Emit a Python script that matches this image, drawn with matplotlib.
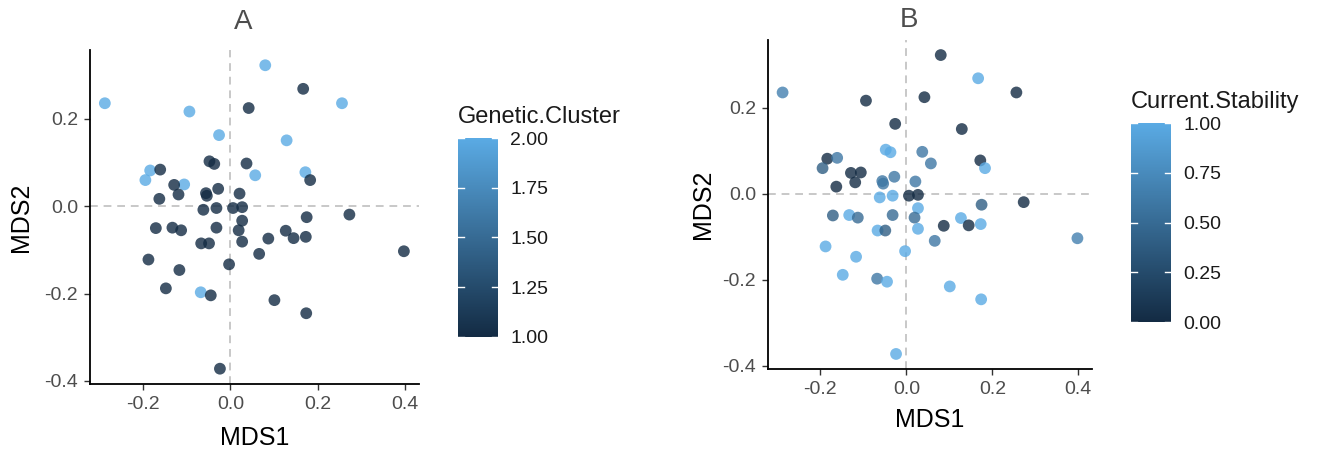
import matplotlib.pyplot as plt
import matplotlib as mpl
from matplotlib.colors import LinearSegmentedColormap
import numpy as np

plt.rcParams['font.family'] = ['Liberation Sans', 'DejaVu Sans']

# MDS coordinates (same samples in both panels)
mds1 = [-0.288, 0.080, -0.094, -0.026, 0.256, 0.129, -0.184, -0.195, -0.106, 0.057,
        0.172, -0.068,
        0.167, 0.042, -0.161, -0.048, -0.037, 0.037, 0.183, -0.129, -0.119, -0.163,
        -0.028, -0.056, -0.054, 0.021, -0.062, -0.032, 0.006, 0.027, 0.027, 0.175,
        0.273, -0.171, -0.133, -0.113, -0.032, 0.019, 0.127, 0.145, 0.173, 0.087,
        0.027, -0.067, -0.049, 0.066, 0.398, -0.188, -0.003, -0.117, -0.148, -0.045,
        0.101, 0.174, -0.024]
mds2 = [0.236, 0.323, 0.217, 0.163, 0.236, 0.151, 0.082, 0.060, 0.050, 0.071,
        0.078, -0.197,
        0.269, 0.225, 0.084, 0.103, 0.097, 0.098, 0.060, 0.049, 0.027, 0.017,
        0.040, 0.030, 0.024, 0.029, -0.008, -0.004, -0.004, -0.002, -0.033, -0.025,
        -0.019, -0.050, -0.049, -0.055, -0.049, -0.055, -0.056, -0.073, -0.070, -0.074,
        -0.081, -0.085, -0.085, -0.109, -0.103, -0.122, -0.133, -0.146, -0.188, -0.204,
        -0.215, -0.245, -0.372]
genetic_cluster = [2] * 12 + [1] * 43
current_stability = [0.67, 0.0, 0.0, 0.0, 0.0, 0.0, 0.0, 0.4, 0.0, 0.6,
                     0.0, 0.6,
                     1.0, 0.0, 0.6, 1.0, 1.0, 0.6, 1.0, 0.0, 0.0, 0.0,
                     0.6, 0.6, 0.6, 0.6, 1.0, 1.0, 0.0, 0.0, 1.0, 0.4,
                     0.0, 0.4, 1.0, 0.5, 0.5, 0.5, 1.0, 0.0, 1.0, 0.0,
                     1.0, 1.0, 0.4, 0.6, 0.67, 1.0, 1.0, 1.0, 1.0, 1.0,
                     1.0, 1.0, 1.0]

cmap = LinearSegmentedColormap.from_list('gg', ['#132B43', '#5aaae4'])
tick_gray = '#4d4d4d'

fig = plt.figure(figsize=(13.2, 4.51), dpi=100)


def draw_panel(rect, cbar_rect, values, vmin, vmax, cticks, ctitle, title, title_xy,
               ylab_x, xlab_y):
    ax = fig.add_axes(rect)
    ax.axhline(0, color='#c8c8c8', ls=(0, (4, 3)), lw=1.4, zorder=1)
    ax.axvline(0, color='#c8c8c8', ls=(0, (4, 3)), lw=1.4, zorder=1)
    sc = ax.scatter(mds1, mds2, c=values, cmap=cmap, vmin=vmin, vmax=vmax,
                    s=72, alpha=0.8, edgecolors='none', zorder=2)
    ax.set_xlim(-0.322, 0.432)
    ax.set_ylim(-0.407, 0.358)
    ax.set_xticks([-0.2, 0.0, 0.2, 0.4])
    ax.set_yticks([-0.4, -0.2, 0.0, 0.2])
    ax.set_xticklabels(['-0.2', '0.0', '0.2', '0.4'])
    ax.set_yticklabels(['-0.4', '-0.2', '0.0', '0.2'])
    for s in ['top', 'right']:
        ax.spines[s].set_visible(False)
    for s in ['left', 'bottom']:
        ax.spines[s].set_linewidth(1.3)
    ax.tick_params(direction='out', length=4.5, width=1, color='#333333',
                   labelsize=14, labelcolor=tick_gray, pad=4)
    ax.set_xlabel('MDS1', fontsize=18, va='top')
    ax.set_ylabel('MDS2', fontsize=18)
    ax.yaxis.set_label_coords(ylab_x, 0.5)
    ax.xaxis.set_label_coords(0.5, xlab_y)
    fig.text(title_xy[0], title_xy[1], title, fontsize=20, color='#4d4d4d',
             ha='center', va='center')

    cax = fig.add_axes(cbar_rect)
    cb = fig.colorbar(sc, cax=cax)
    cb.solids.set_alpha(1)
    cb.outline.set_visible(False)
    cb.set_ticks(cticks)
    cb.set_ticklabels(['%.2f' % t for t in cticks])
    cax.tick_params(length=0, labelsize=14, labelcolor='#1a1a1a', pad=9)
    for t in cticks:
        cax.plot([0, 0.15], [t, t], color='white', lw=1, transform=cax.get_yaxis_transform())
        cax.plot([0.85, 1], [t, t], color='white', lw=1, transform=cax.get_yaxis_transform())
    cax.set_title(ctitle, fontsize=17, loc='left', pad=11, color='#1a1a1a')


draw_panel([0.0682, 0.1486, 0.249, 0.7406], [0.347, 0.253, 0.030, 0.441],
           genetic_cluster, 1, 2, [1.0, 1.25, 1.5, 1.75, 2.0], 'Genetic.Cluster',
           'A', (0.184, 0.951), -0.173, -0.125)
draw_panel([0.5818, 0.1818, 0.2455, 0.7295], [0.857, 0.286, 0.030, 0.441],
           current_stability, 0, 1, [0.0, 0.25, 0.5, 0.75, 1.0], 'Current.Stability',
           'B', (0.689, 0.955), -0.164, -0.118)

fig.savefig('out.png', dpi=100)
